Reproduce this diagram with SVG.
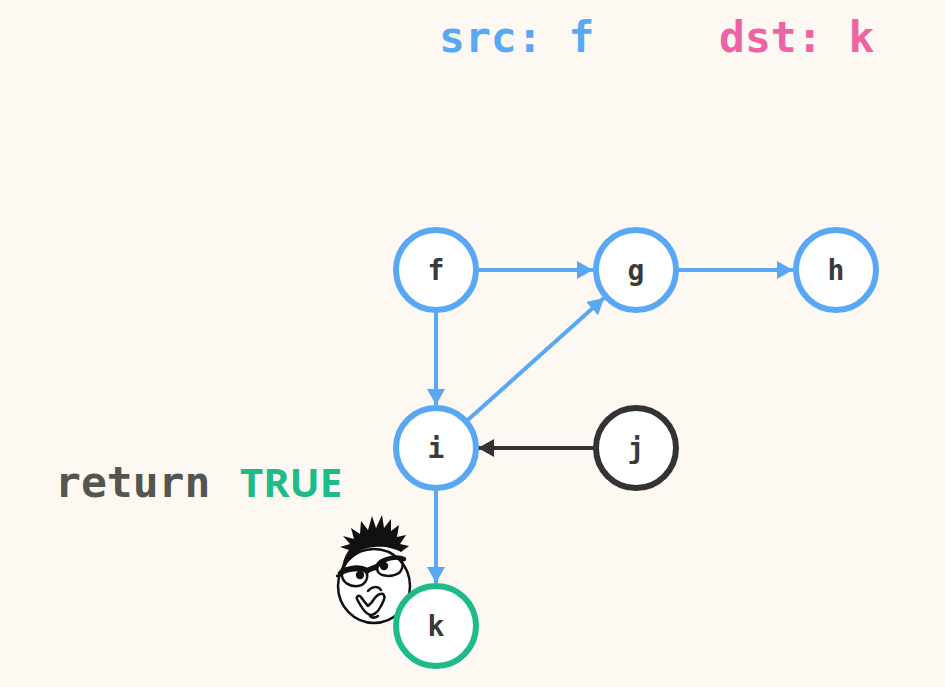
<svg xmlns="http://www.w3.org/2000/svg" width="945" height="687" viewBox="0 0 945 687">
<defs>
<style>
.bg{fill:#fdf8f2}
.node{fill:#ffffff;stroke-width:6}
.blue{stroke:#58a8f5}
.dark{stroke:#333333}
.green{stroke:#1dbb8a}
.lbl{font-family:"DejaVu Sans Mono",monospace;font-weight:bold;font-size:28px;fill:#3a3a3a;text-anchor:middle}
.edge{fill:none;stroke-width:4}
.title{font-family:"DejaVu Sans Mono",monospace;font-weight:bold;font-size:43px}
.face{fill:none;stroke:#111;stroke-width:2.5;stroke-linecap:round;stroke-linejoin:round}
</style>
<marker id="ab" markerUnits="userSpaceOnUse" markerWidth="17" markerHeight="18" refX="16" refY="9" orient="auto" viewBox="0 0 17 18"><path d="M0,0 L16,9 L0,18 z" fill="#58a8f5"/></marker>
<marker id="ad" markerUnits="userSpaceOnUse" markerWidth="17" markerHeight="18" refX="16" refY="9" orient="auto" viewBox="0 0 17 18"><path d="M0,0 L16,9 L0,18 z" fill="#333333"/></marker>
</defs>
<rect class="bg" x="0" y="0" width="945" height="687"/>
<g id="titles">
<text class="title" x="439" y="52" fill="#58a8f5">src: f</text>
<text class="title" x="719" y="52" fill="#ef62a4">dst: k</text>
</g>
<g id="result">
<text x="55" y="497" font-family="DejaVu Sans Mono, monospace" font-weight="bold" font-size="43" fill="#555550">return</text>
<text x="240" y="497" font-family="Open Sans, sans-serif" font-weight="bold" font-size="40" fill="#1dbb8a">TRUE</text>
</g>
<g id="connectors">
<path class="edge blue" d="M478,270 L593,270" marker-end="url(#ab)"/>
<path class="edge blue" d="M678,270 L793,270" marker-end="url(#ab)"/>
<path class="edge blue" d="M436,312 L436,405" marker-end="url(#ab)"/>
<path class="edge blue" d="M460,427 L604,298" marker-end="url(#ab)"/>
<path class="edge dark" d="M594,448 L478,448" marker-end="url(#ad)"/>
<path class="edge blue" d="M436,490 L436,583" marker-end="url(#ab)"/>
</g>
<g id="face">
<ellipse cx="374" cy="586" rx="36" ry="37" fill="#ffffff" stroke="#111" stroke-width="2.5"/>
<path d="M342,568 C343,560 346,554 349,550 L340,547 L350,544 L343,536 L354,539 L351,528 L360,534 L361,521 L368,530 L372,516 L376,528 L382,515 L384,528 L391,519 L391,531 L399,525 L397,537 L406,535 L400,544 L409,546 L401,552 C394,548 384,546 374,547 C360,548 350,555 345,568 Z" fill="#111"/>
<path class="face" d="M337,576 L342,574 C346,571 362,568 366,572 C369,577 366,585 358,586 C349,587 343,582 342,576"/>
<path class="face" d="M367,573 C370,570 374,569 377,569"/>
<path class="face" d="M377,567 C377,560 388,557 398,558 C404,560 404,568 399,573 C393,577 382,577 378,572 C377,570 377,568 377,567"/>
<path d="M340,573 C348,567 360,566 367,570 L377,566 C385,557 398,556 404,559" fill="none" stroke="#111" stroke-width="4.5" stroke-linecap="round"/>
<circle cx="360" cy="575" r="4.2" fill="#111"/>
<circle cx="384" cy="566" r="4.2" fill="#111"/>
<path class="face" d="M368,591 C372,586 378,586 381,590"/>
<path class="face" d="M357,599 C360,605 363,611 368,614 C373,617 378,612 381,606 C384,600 386,597 383,594 C379,593 375,597 372,602 L368,606 C365,603 362,598 360,596 C358,595 356,597 357,599 Z"/>
<path class="face" d="M370,616 C372,618 375,618 378,616"/>
</g>
<g id="node-f"><circle class="node blue" cx="436" cy="270" r="40"/><text class="lbl" x="436" y="280">f</text></g>
<g id="node-g"><circle class="node blue" cx="636" cy="270" r="40"/><text class="lbl" x="636" y="280">g</text></g>
<g id="node-h"><circle class="node blue" cx="836" cy="270" r="40"/><text class="lbl" x="836" y="280">h</text></g>
<g id="node-i"><circle class="node blue" cx="436" cy="448" r="40"/><text class="lbl" x="436" y="458">i</text></g>
<g id="node-j"><circle class="node dark" cx="636" cy="448" r="40"/><text class="lbl" x="636" y="458">j</text></g>
<g id="node-k"><circle class="node green" cx="436" cy="626" r="40"/><text class="lbl" x="436" y="636">k</text></g>
</svg>
